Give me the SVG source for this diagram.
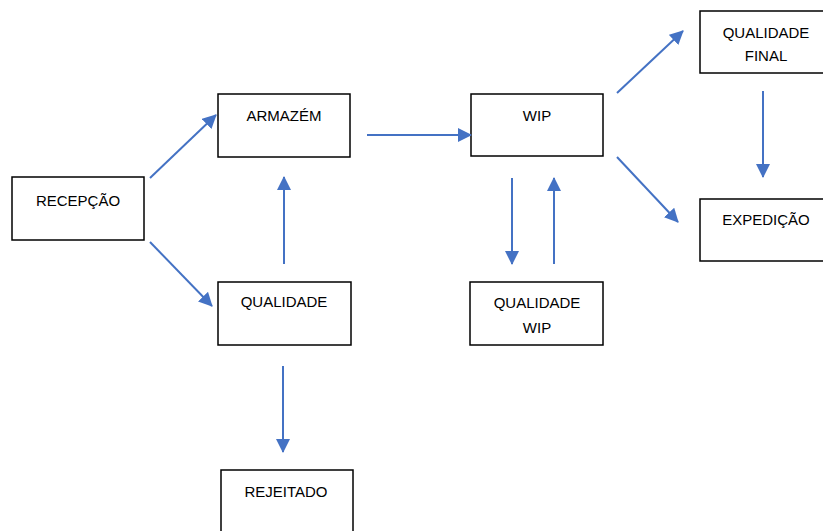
<svg xmlns="http://www.w3.org/2000/svg" width="823" height="531" viewBox="0 0 823 531">
<defs>
<marker id="ah" markerUnits="userSpaceOnUse" markerWidth="14" markerHeight="14" viewBox="0 0 14 14" refX="13" refY="7" orient="auto">
<path d="M0,0 L14,7 L0,14 Z" fill="#4472C4"/>
</marker>
<style>
.box{fill:#fff;stroke:#000;stroke-width:1.5}
.t{font-family:"Liberation Sans",Arial,sans-serif;font-size:15px;fill:#000;text-anchor:middle}
.c{stroke:#4472C4;stroke-width:2;fill:none;marker-end:url(#ah)}
</style>
</defs>
<rect width="823" height="531" fill="#fff"/>
<g id="recepcao"><rect class="box" x="12" y="177" width="132" height="63"/><text class="t" x="78" y="206">RECEPÇÃO</text></g>
<g id="armazem"><rect class="box" x="218" y="94" width="132" height="63"/><text class="t" x="284" y="121">ARMAZÉM</text></g>
<g id="qualidade"><rect class="box" x="218" y="282" width="133" height="63"/><text class="t" x="284" y="307">QUALIDADE</text></g>
<g id="rejeitado"><rect class="box" x="221" y="470" width="132" height="70"/><text class="t" x="286" y="497">REJEITADO</text></g>
<g id="wip"><rect class="box" x="471" y="94" width="132" height="62"/><text class="t" x="537" y="121">WIP</text></g>
<g id="qualidade-wip"><rect class="box" x="470" y="282" width="133" height="63"/><text class="t" x="537" y="308">QUALIDADE</text><text class="t" x="537" y="333">WIP</text></g>
<g id="qualidade-final"><rect class="box" x="700" y="11" width="130" height="62"/><text class="t" x="766" y="38">QUALIDADE</text><text class="t" x="766" y="61">FINAL</text></g>
<g id="expedicao"><rect class="box" x="700" y="199" width="130" height="62"/><text class="t" x="766" y="225">EXPEDIÇÃO</text></g>
<g id="connectors">
<line class="c" x1="150" y1="178" x2="216" y2="115"/>
<line class="c" x1="150" y1="242" x2="212" y2="306"/>
<line class="c" x1="284" y1="264" x2="284" y2="177"/>
<line class="c" x1="367" y1="135" x2="471" y2="135"/>
<line class="c" x1="283" y1="366" x2="283" y2="452"/>
<line class="c" x1="512" y1="178" x2="512" y2="264"/>
<line class="c" x1="554" y1="264" x2="554" y2="178"/>
<line class="c" x1="617" y1="93" x2="683" y2="31"/>
<line class="c" x1="617" y1="157" x2="678" y2="222"/>
<line class="c" x1="763" y1="91" x2="763" y2="177"/>
</g>
</svg>
